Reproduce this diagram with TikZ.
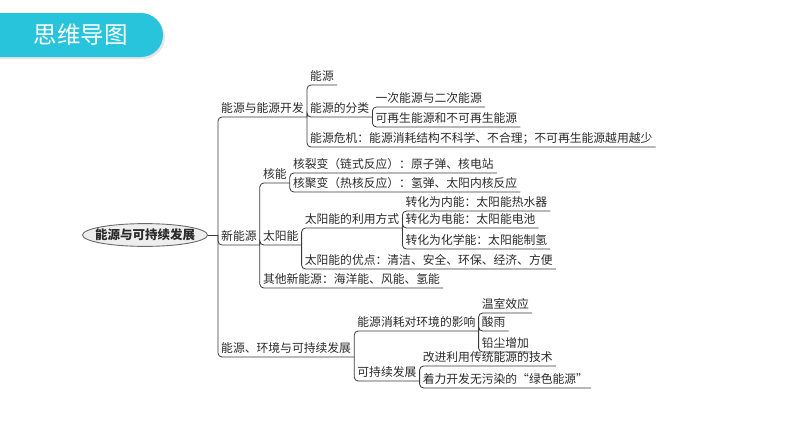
\documentclass[tikz,border=0pt]{standalone}
\usepackage{fontspec}
\setmainfont{Noto Sans CJK SC}
\usetikzlibrary{positioning,shapes.geometric}
\definecolor{TitleCyan}{HTML}{27C4DB}
\definecolor{LineGray}{HTML}{3A3A3A}
\definecolor{InkGray}{HTML}{2A2A2A}
\definecolor{RootFill}{HTML}{EEEEEE}
\definecolor{RootRule}{HTML}{6A6A6A}

\begin{document}
\begin{tikzpicture}[x=1pt, y=-1pt,
  lbl/.style={anchor=south west, inner xsep=3pt, inner ysep=2.5pt, text depth=2pt,
              font=\fontsize{11.8}{12}\selectfont, text=InkGray},
  br/.style={draw=LineGray, line width=0.8pt, rounded corners=4pt},
  root/.style={ellipse, draw=RootRule, fill=RootFill, line width=0.9pt,
               inner xsep=-5.8pt, inner ysep=2pt,
               font=\fontsize{12.5}{13}\selectfont\bfseries, text=InkGray},
  title/.style={text=white, font=\fontsize{23.5}{25}\selectfont}]
  \useasboundingbox (0,0) rectangle (794,447);
  % title bar
  \fill[black!10, rounded corners=22pt] (-30,15) rectangle (165,59);
  \fill[TitleCyan, rounded corners=22pt] (-30,13) rectangle (163,57);
  \node[title] (title) at (80.5,35) {思维导图};

  % root and trunk
  \node[root] (root) at (145,235) {能源与可持续发展};
  \coordinate (hub) at (218,235);

  % first level
  \node[lbl] (dev) at (218,117) {能源与能源开发};
  \node[lbl] (new) at (218,245) {新能源};
  \node[lbl] (env) at (218,357) {能源、环境与可持续发展};

  % 能源与能源开发
  \node[lbl] (src)    at (dev.south east |- 0,85)  {能源};
  \node[lbl] (cls)    at (dev.south east |- 0,117) {能源的分类};
  \node[lbl] (crisis) at (dev.south east |- 0,147) {能源危机：能源消耗结构不科学、不合理；不可再生能源越用越少};
  \node[lbl] (cls1)   at (cls.south east |- 0,107) {一次能源与二次能源};
  \node[lbl] (cls2)   at (cls.south east |- 0,127) {可再生能源和不可再生能源};

  % 新能源
  \node[lbl] (nuc)   at (new.south east |- 0,183) {核能};
  \node[lbl] (sun)   at (new.south east |- 0,245) {太阳能};
  \node[lbl] (other) at (new.south east |- 0,288) {其他新能源：海洋能、风能、氢能};
  \node[lbl] (fis)   at (nuc.south east |- 0,173) {核裂变（链式反应）：原子弹、核电站};
  \node[lbl] (fus)   at (nuc.south east |- 0,192) {核聚变（热核反应）：氢弹、太阳内核反应};
  \node[lbl] (use)   at (sun.south east |- 0,228) {太阳能的利用方式};
  \node[lbl] (pro)   at (sun.south east |- 0,269) {太阳能的优点：清洁、安全、环保、经济、方便};
  \node[lbl] (heat)  at (use.south east |- 0,211) {转化为内能：太阳能热水器};
  \node[lbl] (elec)  at (use.south east |- 0,228) {转化为电能：太阳能电池};
  \node[lbl] (chem)  at (use.south east |- 0,249) {转化为化学能：太阳能制氢};

  % 能源、环境与可持续发展
  \node[lbl] (eff)   at (env.south east |- 0,331) {能源消耗对环境的影响};
  \node[lbl] (sus)   at (env.south east |- 0,381) {可持续发展};
  \node[lbl] (green) at (eff.south east |- 0,313) {温室效应};
  \node[lbl] (acid)  at (eff.south east |- 0,331) {酸雨};
  \node[lbl] (lead)  at (eff.south east |- 0,352) {铅尘增加};
  \node[lbl] (tech)  at (sus.south east |- 0,366) {改进利用传统能源的技术};
  \node[lbl] (clean) at (sus.south east |- 0,388) {着力开发无污染的“绿色能源”};

  % connectors
  \draw[br] (root.east) -- (hub);
  \foreach \n in {dev,new,env} \draw[br] (hub) |- (\n.south east);
  \foreach \n in {src,cls,crisis} \draw[br] (dev.south east) |- (\n.south east);
  \foreach \n in {cls1,cls2} \draw[br] (cls.south east) |- (\n.south east);
  \foreach \n in {nuc,sun,other} \draw[br] (new.south east) |- (\n.south east);
  \foreach \n in {fis,fus} \draw[br] (nuc.south east) |- (\n.south east);
  \foreach \n in {use,pro} \draw[br] (sun.south east) |- (\n.south east);
  \foreach \n in {heat,elec,chem} \draw[br] (use.south east) |- (\n.south east);
  \foreach \n in {eff,sus} \draw[br] (env.south east) |- (\n.south east);
  \foreach \n in {green,acid,lead} \draw[br] (eff.south east) |- (\n.south east);
  \foreach \n in {tech,clean} \draw[br] (sus.south east) |- (\n.south east);
\end{tikzpicture}
\end{document}
